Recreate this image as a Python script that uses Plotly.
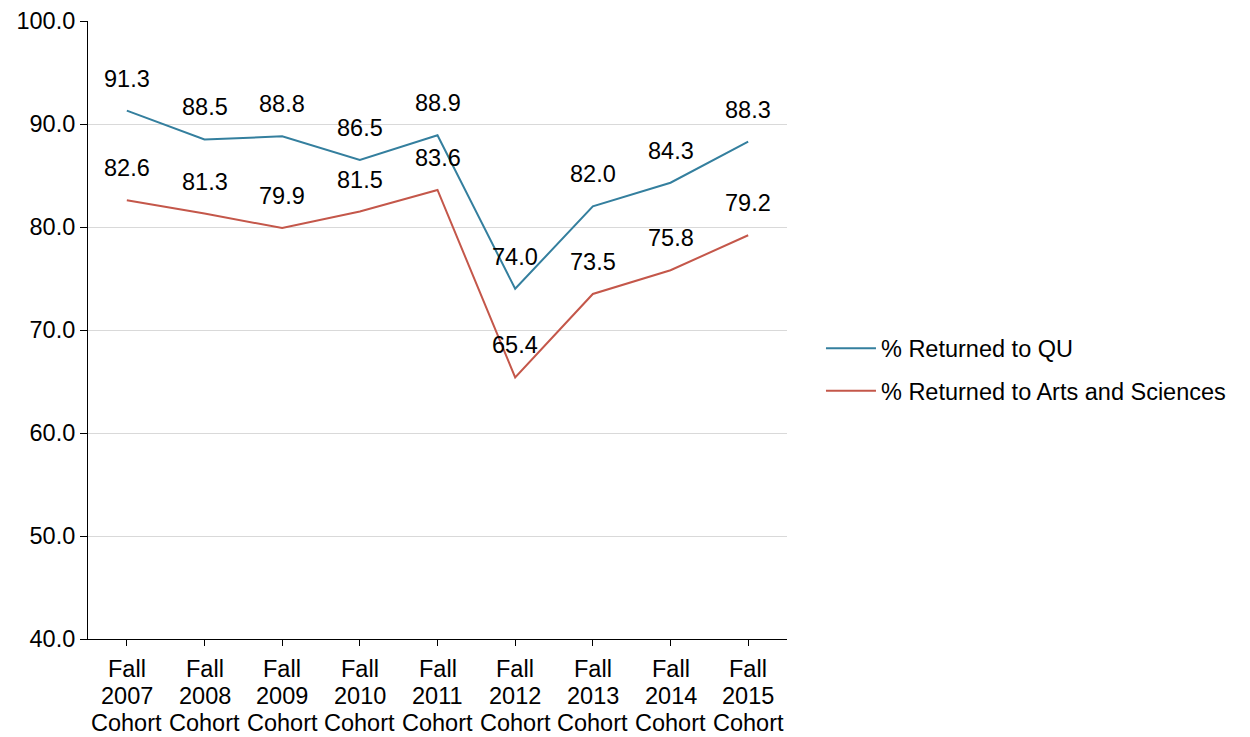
import plotly.graph_objects as go

categories = ["Fall 2007 Cohort", "Fall 2008 Cohort", "Fall 2009 Cohort",
              "Fall 2010 Cohort", "Fall 2011 Cohort", "Fall 2012 Cohort",
              "Fall 2013 Cohort", "Fall 2014 Cohort", "Fall 2015 Cohort"]
returned_qu = [91.3, 88.5, 88.8, 86.5, 88.9, 74.0, 82.0, 84.3, 88.3]
returned_as = [82.6, 81.3, 79.9, 81.5, 83.6, 65.4, 73.5, 75.8, 79.2]
y_ticks = [40, 50, 60, 70, 80, 90, 100]

FONT = "Liberation Sans, Arial, sans-serif"
FS = 23.5
fig = go.Figure()
fig.add_trace(go.Scatter(x=categories, y=returned_qu, mode="lines", name="% Returned to QU",
                         legendgroup="a", line=dict(color="#347F9E", width=2)))
fig.add_trace(go.Scatter(x=categories, y=returned_as, mode="lines", name="% Returned to Arts and Sciences",
                         legendgroup="b", line=dict(color="#C4574A", width=2)))

# data labels
for series in (returned_qu, returned_as):
    for c, v in zip(categories, series):
        fig.add_annotation(x=c, y=v, text=f"{v:.1f}", showarrow=False, yshift=32,
                           font=dict(family=FONT, size=FS, color="black"))

# category labels (three lines each, tighter line spacing than plotly default)
for c in categories:
    for i, part in enumerate(c.split(" ")):
        fig.add_annotation(x=c, y=0, xref="x", yref="paper", text=part, showarrow=False,
                           yanchor="middle", yshift=-30 - 27 * i,
                           font=dict(family=FONT, size=FS, color="black"))

fig.update_layout(
    width=1250, height=737,
    margin=dict(l=80, r=471, t=13, b=106),
    paper_bgcolor="white", plot_bgcolor="white",
    font=dict(family=FONT, size=FS, color="black"),
    showlegend=True,
    legend=dict(x=1.0486, y=0.4352, xanchor="left", yanchor="middle",
                font=dict(family=FONT, size=FS, color="black"),
                traceorder="grouped", tracegroupgap=9, itemwidth=50),
    xaxis=dict(range=[-0.5, 8.5], showline=True, linecolor="black", linewidth=1,
               ticks="outside", ticklen=6, tickcolor="black", showgrid=False,
               showticklabels=False, automargin=False),
    yaxis=dict(range=[40, 100], tickvals=y_ticks, tickformat=".1f", showline=True,
               linecolor="black", linewidth=1, ticks="outside", ticklen=7, tickcolor="black",
               showgrid=True, gridcolor="#D9D9D9", gridwidth=1, zeroline=False,
               automargin=False, ticklabeloverflow="allow",
               tickfont=dict(family=FONT, size=FS, color="black")),
)
fig.write_html("out.html")
